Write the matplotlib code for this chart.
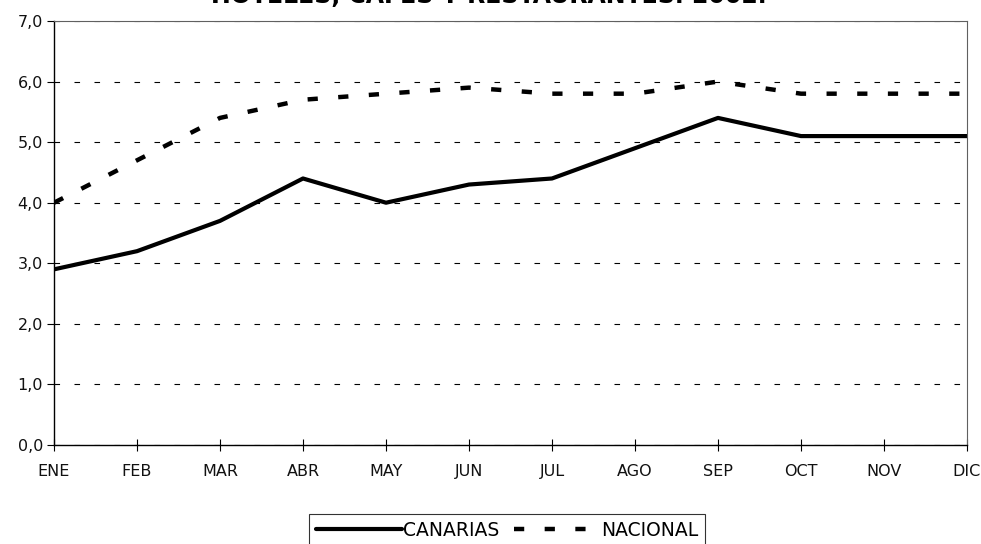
import matplotlib
matplotlib.use("Agg")
import matplotlib.pyplot as plt

# Datos
months = ["ENE", "FEB", "MAR", "ABR", "MAY", "JUN", "JUL", "AGO", "SEP", "OCT", "NOV", "DIC"]
canarias = [2.9, 3.2, 3.7, 4.4, 4.0, 4.3, 4.4, 4.9, 5.4, 5.1, 5.1, 5.1]
nacional = [4.0, 4.7, 5.4, 5.7, 5.8, 5.9, 5.8, 5.8, 6.0, 5.8, 5.8, 5.8]
yticks = [0, 1, 2, 3, 4, 5, 6, 7]
title = "HOTELES, CAFES Y RESTAURANTES. 2002."

plt.rcParams['font.family'] = ['DejaVu Sans']

fig = plt.figure(figsize=(9.81, 5.44), dpi=100)
ax = fig.add_axes([54 / 981, 99 / 544, 913 / 981, 424 / 544])

x = list(range(len(months)))
ax.plot(x, canarias, color="black", lw=3.0, solid_capstyle="round",
        solid_joinstyle="round", label="CANARIAS")
ax.plot(x, nacional, color="black", lw=3.2, dashes=(2.3, 4.6),
        dash_capstyle="butt", label="NACIONAL")

ax.set_xlim(0, len(months) - 1)
ax.set_ylim(0, 7)
ax.set_xticks(x)
ax.set_xticklabels(months, fontsize=11.5, color="#111111")
ax.set_yticks(yticks)
ax.set_yticklabels([f"{v:.1f}".replace(".", ",") for v in yticks],
                   fontsize=11.5, color="#111111")
ax.tick_params(axis="x", direction="inout", length=8, width=0.8, pad=10)
ax.tick_params(axis="y", direction="out", length=5, width=0.8, pad=3)

# gridlines horizontales discontinuas
ax.yaxis.grid(True, color="black", lw=0.8, dashes=(5, 13))
ax.set_axisbelow(True)

for side in ("left", "bottom"):
    ax.spines[side].set_color("black")
    ax.spines[side].set_linewidth(1.0)
for side in ("top", "right"):
    ax.spines[side].set_color("#606060")
    ax.spines[side].set_linewidth(0.8)

# titulo (cortado por arriba como en el original)
fig.text(0.4985, 1 - 3 / 544, title, ha="center", va="baseline",
         fontsize=17, fontweight="bold")

leg = fig.legend(loc="upper center", bbox_to_anchor=(0.517, 1 - 514 / 544),
                 ncol=2, fontsize=13.5, frameon=True, fancybox=False,
                 edgecolor="black", handlelength=4.6, handletextpad=0.05,
                 columnspacing=0.8, borderpad=0.35, borderaxespad=0)
leg.get_frame().set_linewidth(0.8)

fig.savefig("out.png", dpi=100)
